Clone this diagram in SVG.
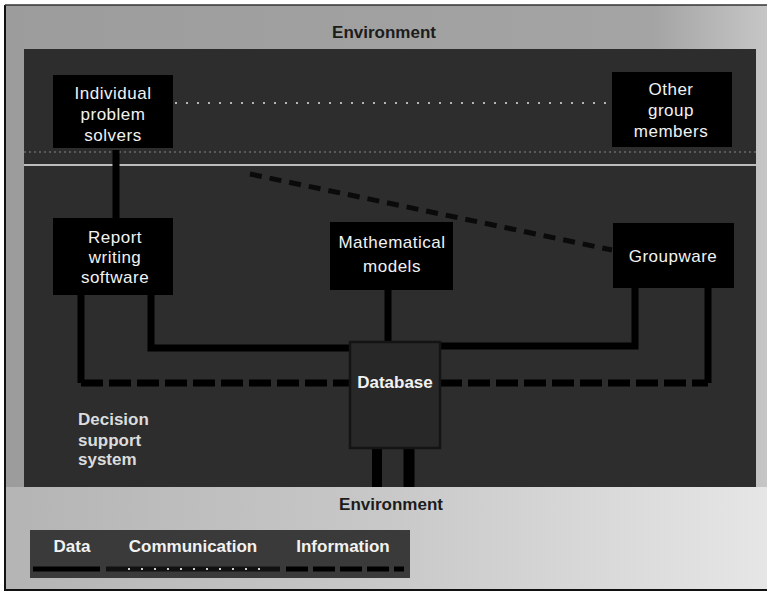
<svg xmlns="http://www.w3.org/2000/svg" width="772" height="596" viewBox="0 0 772 596">
  <defs>
    <linearGradient id="envLow" x1="0" y1="0" x2="1" y2="0">
      <stop offset="0" stop-color="#b4b4b4"/>
      <stop offset="0.5" stop-color="#c8c8c8"/>
      <stop offset="1" stop-color="#e6e6e6"/>
    </linearGradient>
    <linearGradient id="envSide" x1="0" y1="0" x2="1" y2="0">
      <stop offset="0" stop-color="#9c9c9c"/>
      <stop offset="0.85" stop-color="#a4a4a4"/>
      <stop offset="1" stop-color="#c6c6c6"/>
    </linearGradient>
    <style>
      .node { fill: #000; }
      .label { font-family: "Liberation Sans", Arial, sans-serif; font-size: 17px; fill: #f2f2f2; text-anchor: middle; letter-spacing: 0.5px; }
      .bold { font-weight: bold; letter-spacing: 0; }
      .side { fill: #dcdcdc; text-anchor: start; }
      .env { font-family: "Liberation Sans", Arial, sans-serif; font-size: 17px; font-weight: bold; fill: #1c1c1c; text-anchor: middle; }
      .data { stroke: #000; stroke-width: 7; fill: none; }
      .info { stroke: #000; stroke-width: 7; fill: none; stroke-dasharray: 22 6; }
      .comm { stroke: #b5b5b5; stroke-width: 2; fill: none; stroke-dasharray: 2 9; }
      .commDark { stroke: #0a0a0a; stroke-width: 5; fill: none; stroke-dasharray: 12 8; }
    </style>
  </defs>

  <!-- environment background and frame -->
  <rect x="5" y="5" width="762" height="585" fill="url(#envSide)"/>
  <rect x="5" y="487" width="762" height="103" fill="url(#envLow)"/>
  <path d="M5 5 V590 H767" fill="none" stroke="#111" stroke-width="2"/>
  <line x1="5" y1="5" x2="767" y2="5" stroke="#333" stroke-width="1.5"/>

  <text class="env" x="384" y="38">Environment</text>
  <text class="env" x="391" y="510">Environment</text>

  <!-- decision support system panel -->
  <rect x="24" y="49" width="732" height="438" fill="#2d2d2d"/>
  <line x1="24" y1="152" x2="756" y2="152" stroke="#6a6a6a" stroke-width="1.5" stroke-dasharray="2 3"/>
  <line x1="24" y1="165" x2="756" y2="165" stroke="#ececec" stroke-width="1.5"/>

  <!-- connectors -->
  <g id="connectors">
    <!-- communication between the people -->
    <line class="comm" x1="175" y1="103" x2="610" y2="103"/>
    <!-- groupware to individuals -->
    <line class="commDark" x1="250" y1="174" x2="612" y2="250"/>
    <!-- report writing to individual problem solvers -->
    <line class="data" x1="116" y1="150" x2="116" y2="218"/>
    <!-- database links -->
    <path class="data" d="M151 295 V348 H350"/>
    <path class="data" d="M635 288 V346 H440"/>
    <line class="data" x1="388" y1="290" x2="388" y2="342"/>
    <path class="data" d="M81 295 V383"/>
    <path class="data" d="M708 288 V383"/>
    <line class="info" x1="81" y1="383" x2="350" y2="383"/>
    <line class="info" x1="440" y1="383" x2="708" y2="383"/>
    <!-- data from the environment -->
    <line x1="377" y1="448" x2="377" y2="487" stroke="#000" stroke-width="10"/>
    <line x1="409" y1="448" x2="409" y2="487" stroke="#000" stroke-width="11"/>
  </g>

  <g id="individual">
    <rect class="node" x="53" y="75" width="120" height="73"/>
    <text class="label" x="113" y="99">Individual</text>
    <text class="label" x="113" y="120">problem</text>
    <text class="label" x="113" y="141">solvers</text>
  </g>

  <g id="others">
    <rect class="node" x="612" y="72" width="120" height="75"/>
    <text class="label" x="671" y="95">Other</text>
    <text class="label" x="671" y="116">group</text>
    <text class="label" x="671" y="137">members</text>
  </g>

  <g id="report">
    <rect class="node" x="53" y="218" width="120" height="77"/>
    <text class="label" x="115" y="243">Report</text>
    <text class="label" x="115" y="263">writing</text>
    <text class="label" x="115" y="283">software</text>
  </g>

  <g id="models">
    <rect class="node" x="330" y="222" width="123" height="68"/>
    <text class="label" x="392" y="248">Mathematical</text>
    <text class="label" x="392" y="272">models</text>
  </g>

  <g id="groupware">
    <rect class="node" x="613" y="223" width="121" height="65"/>
    <text class="label" x="673" y="262">Groupware</text>
  </g>

  <g id="database">
    <rect x="350" y="342" width="90" height="106" fill="#282828" stroke="#141414" stroke-width="2.5"/>
    <text class="label bold" x="395" y="388">Database</text>
  </g>

  <g id="dss-label">
    <text class="label bold side" x="78" y="425">Decision</text>
    <text class="label bold side" x="78" y="446">support</text>
    <text class="label bold side" x="78" y="465">system</text>
  </g>

  <!-- legend -->
  <g id="legend">
    <rect x="30" y="530" width="380" height="48" fill="#3a3a3a"/>
    <text class="label bold" x="72" y="552">Data</text>
    <text class="label bold" x="193" y="552">Communication</text>
    <text class="label bold" x="343" y="552">Information</text>
    <line x1="33" y1="569" x2="100" y2="569" stroke="#000" stroke-width="5"/>
    <line x1="106" y1="569" x2="280" y2="569" stroke="#111" stroke-width="5"/>
    <line x1="128" y1="569" x2="260" y2="569" stroke="#cfcfcf" stroke-width="2" stroke-dasharray="2 11"/>
    <line x1="286" y1="569" x2="404" y2="569" stroke="#000" stroke-width="5" stroke-dasharray="22 5"/>
  </g>
</svg>
